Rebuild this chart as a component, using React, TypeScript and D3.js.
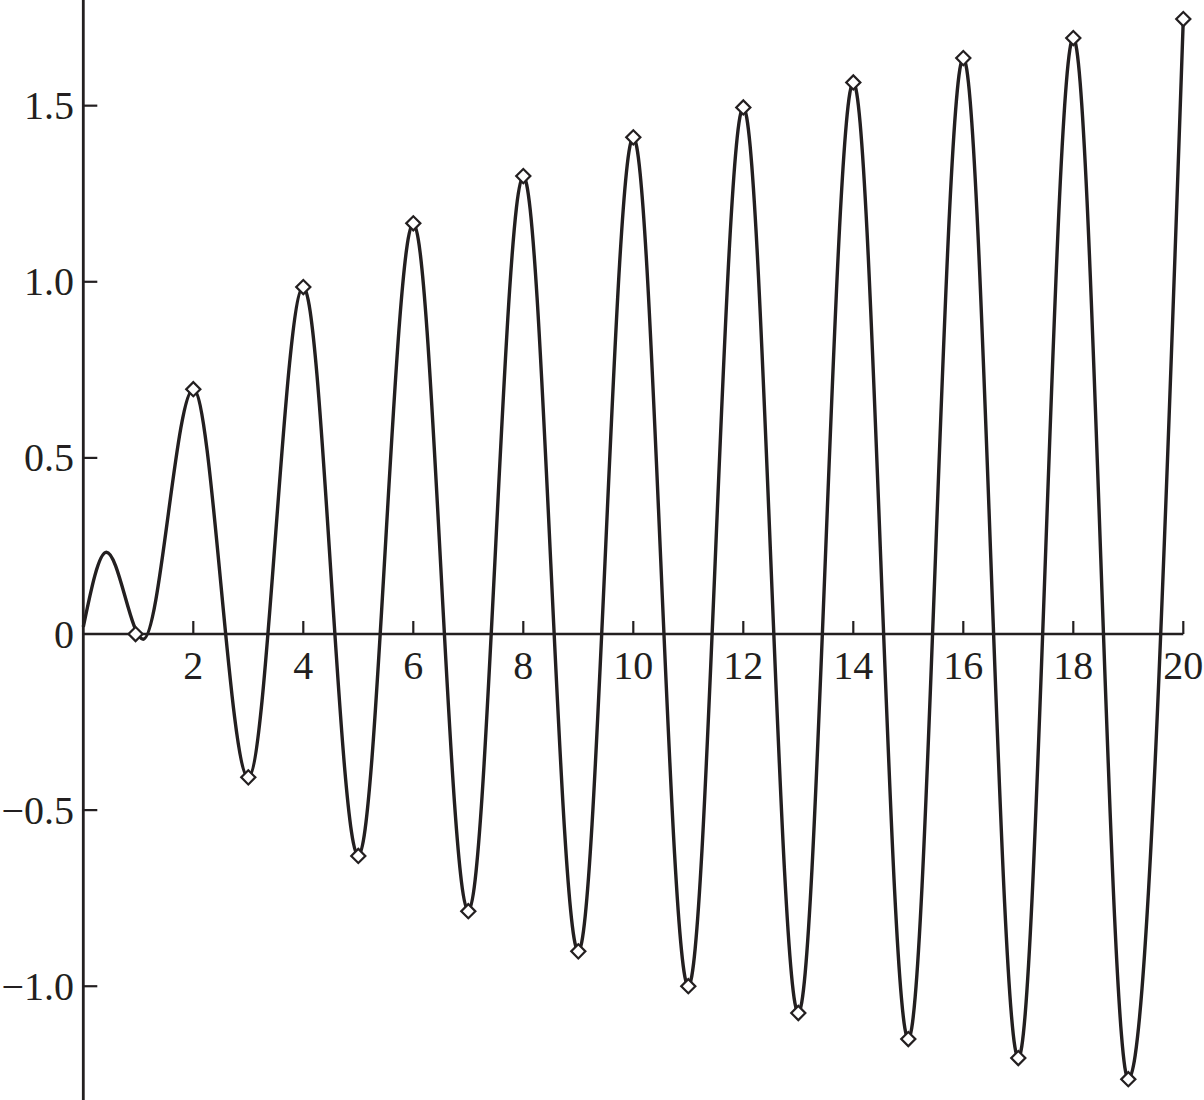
import React, { useEffect, useRef } from 'react';
import * as d3 from 'd3';

// curve points (extrema + the small bump near the origin)
const curveX = [0, 0.42, 1.09, 2, 3, 4, 5, 6, 7, 8, 9, 10, 11, 12, 13, 14, 15, 16, 17, 18, 19, 20];
const curveY = [0.02, 0.232, -0.015, 0.695, -0.407, 0.985, -0.63, 1.166, -0.787, 1.3, -0.901, 1.41, -1.0, 1.495, -1.076, 1.566, -1.15, 1.635, -1.204, 1.692, -1.264, 1.746];

// diamond markers
const markX = [0.95, 2, 3, 4, 5, 6, 7, 8, 9, 10, 11, 12, 13, 14, 15, 16, 17, 18, 19, 20];
const markY = [0.0, 0.695, -0.407, 0.985, -0.63, 1.166, -0.787, 1.3, -0.901, 1.41, -1.0, 1.495, -1.076, 1.566, -1.15, 1.635, -1.204, 1.692, -1.264, 1.746];

const xTicks = [2, 4, 6, 8, 10, 12, 14, 16, 18, 20];
const yTicks = [-1.0, -0.5, 0, 0.5, 1.0, 1.5];
const yTickLabels = ['\u22121.0', '\u22120.5', '0', '0.5', '1.0', '1.5'];

const W = 1204;
const H = 1100;
const INK = '#231f20';

export default function App() {
  const svgRef = useRef<SVGSVGElement>(null);

  useEffect(() => {
    if (!svgRef.current) return;
    const svg = d3.select(svgRef.current);
    svg.selectAll('*').remove();

    const x = d3.scaleLinear().domain([0, 20]).range([83.3, 1183.3]);
    const y = d3.scaleLinear().domain([-1.323, 1.8]).range([H, 0]);

    const font = "'Liberation Serif', 'Times New Roman', serif";

    // y axis
    svg.append('line')
      .attr('x1', x(0)).attr('x2', x(0))
      .attr('y1', 0).attr('y2', H)
      .attr('stroke', INK).attr('stroke-width', 2.8);

    // x axis
    svg.append('line')
      .attr('x1', x(0)).attr('x2', x(20))
      .attr('y1', y(0)).attr('y2', y(0))
      .attr('stroke', INK).attr('stroke-width', 2.6);

    // y ticks
    svg.selectAll('.ytick')
      .data(yTicks.filter(d => d !== 0))
      .enter().append('line')
      .attr('x1', x(0)).attr('x2', x(0) + 14)
      .attr('y1', d => y(d)).attr('y2', d => y(d))
      .attr('stroke', INK).attr('stroke-width', 2.2);

    svg.selectAll('.ylabel')
      .data(yTicks)
      .enter().append('text')
      .attr('x', 74)
      .attr('y', d => y(d) + 13.5)
      .attr('text-anchor', 'end')
      .attr('font-family', font)
      .attr('font-size', 40)
      .attr('fill', INK)
      .text((d, i) => yTickLabels[i]);

    // x ticks
    svg.selectAll('.xtick')
      .data(xTicks)
      .enter().append('line')
      .attr('x1', d => x(d)).attr('x2', d => x(d))
      .attr('y1', y(0)).attr('y2', y(0) - 13)
      .attr('stroke', INK).attr('stroke-width', 2.2);

    svg.selectAll('.xlabel')
      .data(xTicks)
      .enter().append('text')
      .attr('x', d => x(d))
      .attr('y', 679)
      .attr('text-anchor', 'middle')
      .attr('font-family', font)
      .attr('font-size', 40)
      .attr('fill', INK)
      .text(d => String(d));

    // curve
    const line = d3.line<number>()
      .x((d, i) => x(curveX[i]))
      .y(d => y(d))
      .curve(d3.curveMonotoneX);

    svg.append('path')
      .datum(curveY)
      .attr('fill', 'none')
      .attr('stroke', INK)
      .attr('stroke-width', 3.4)
      .attr('d', line);

    // diamond markers
    const sym = d3.symbol().type(d3.symbolSquare).size(100);
    svg.selectAll('.mark')
      .data(markY)
      .enter().append('path')
      .attr('d', sym as any)
      .attr('transform', (d, i) => `translate(${x(markX[i])},${y(d)}) rotate(45)`)
      .attr('fill', 'white')
      .attr('stroke', INK)
      .attr('stroke-width', 2.2);
  }, []);

  return (
    <svg
      ref={svgRef}
      width={W}
      height={H}
      viewBox={`0 0 ${W} ${H}`}
      style={{ position: 'absolute', left: 0, top: 0, background: 'white' }}
    />
  );
}
